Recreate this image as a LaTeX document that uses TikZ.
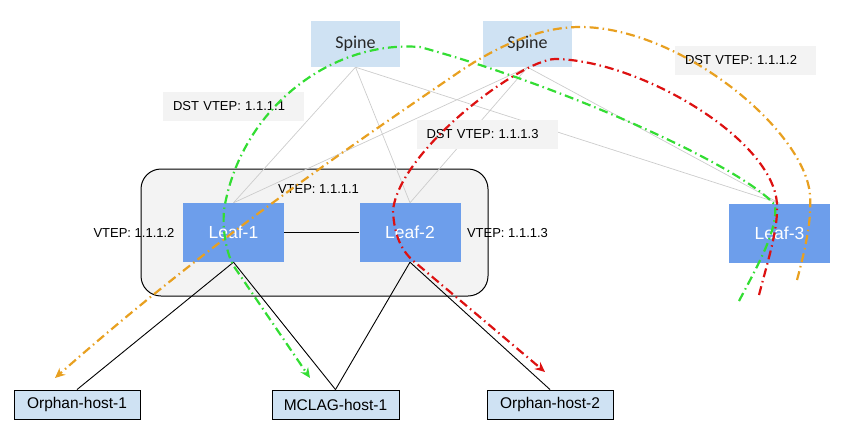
\documentclass[tikz,border=0pt]{standalone}
\usepackage{fontspec}
\setmainfont{Liberation Sans}
\newfontfamily\spinefont{Carlito}
\usetikzlibrary{arrows.meta}
\pgfdeclarelayer{backlayer}
\pgfdeclarelayer{midlayer}
\pgfsetlayers{backlayer,midlayer,main}
\definecolor{spinebg}{HTML}{CFE2F3}
\definecolor{leafbg}{HTML}{6D9EEB}
\definecolor{lblbg}{HTML}{F3F3F3}
\definecolor{grpbg}{HTML}{F3F3F3}
\definecolor{thin}{HTML}{CCCCCC}
\definecolor{pgreen}{HTML}{33DD33}
\definecolor{porange}{HTML}{E8A020}
\definecolor{pred}{HTML}{DD1111}
\tikzset{
  spinebox/.style={fill=spinebg, inner sep=0pt, minimum width=89pt, minimum height=46pt, font=\spinefont\fontsize{18}{20}\selectfont, text=black!85},
  leafbox/.style={fill=leafbg, inner sep=0pt, minimum width=101pt, minimum height=59pt, font=\fontsize{17.5}{20}\selectfont, text=white},
  hostbox/.style={fill=spinebg, draw=black, line width=0.9pt, inner sep=0pt, minimum width=126pt, minimum height=29pt, font=\fontsize{15.5}{18}\selectfont},
  dstbox/.style={fill=lblbg, inner xsep=10pt, inner ysep=0pt, text width=121pt, align=left, minimum height=29pt, font=\fontsize{13}{15}\selectfont},
  vteplbl/.style={inner sep=0pt, font=\fontsize{13}{15}\selectfont},
  grpbox/.style={fill=grpbg, draw=black, line width=1pt, rounded corners=20pt, inner sep=0pt, minimum width=347pt, minimum height=127pt},
  uplink/.style={draw=thin, line width=0.7pt},
  link/.style={draw=black, line width=0.9pt},
  flow/.style={line width=2.2pt, dash pattern=on 9pt off 4pt on 1.5pt off 4pt, -{Stealth[length=10pt,width=9pt]}},
}
\begin{document}
\begin{tikzpicture}[x=1pt,y=-1pt]
\useasboundingbox (0,0) rectangle (844,429);
% label boxes
\node[dstbox] (dst1) at (233.5,106) {DST VTEP: 1.1.1.1};
\node[dstbox] (dst3) at (487,134.5) {DST VTEP: 1.1.1.3};
\node[dstbox] (dst2) at (745.5,60) {DST VTEP: 1.1.1.2};
% spines and leaves
\node[spinebox] (sp1) at (355.5,44) {Spine};
\node[spinebox] (sp2) at (527.5,44) {Spine};
\node[leafbox] (l1) at (233.5,232.5) {Leaf-1};
\node[leafbox] (l2) at (410,232.5) {Leaf-2};
\node[leafbox] (l3) at (779.5,233) {Leaf-3};
% group box
\begin{pgfonlayer}{backlayer}
\node[grpbox] (grp) at (314.5,232.5) {};
\end{pgfonlayer}
% uplinks
\begin{pgfonlayer}{midlayer}
\draw[uplink] (sp1.south) -- (l1.north);
\draw[uplink] (sp1.south) -- (l2.north);
\draw[uplink] (sp1.south) -- (l3.north);
\draw[uplink] (sp2.south) -- (l1.north);
\draw[uplink] (sp2.south) -- (l2.north);
\draw[uplink] (sp2.south) -- (l3.north);
\end{pgfonlayer}
% VTEP labels
\node[vteplbl] (v1) at (318.5,189) {VTEP: 1.1.1.1};
\node[vteplbl] (v2) at (134,233) {VTEP: 1.1.1.2};
\node[vteplbl] (v3) at (507.5,233) {VTEP: 1.1.1.3};
% hosts
\node[hostbox] (h1) at (77,404.5) {Orphan-host-1};
\node[hostbox, minimum width=127pt] (mh) at (335.5,404.5) {MCLAG-host-1};
\node[hostbox] (h2) at (550,404.5) {Orphan-host-2};
% black links
\draw[link, line width=1.2pt] (l1.east) -- (l2.west);
\draw[link] (l1.south) -- (h1.north);
\draw[link] (l1.south) -- (mh.north);
\draw[link] (l2.south) -- (mh.north);
\draw[link] (l2.south) -- (h2.north);
% flows
\coordinate (gs) at (739,301);
\coordinate (ge) at (310,378);
\coordinate (os) at (797,280);
\coordinate (oe) at (55,378);
\coordinate (rs) at (759,295);
\coordinate (re) at (545,372);
\draw[flow, pgreen] (gs) .. controls (758,265) and (778,230) .. (775,205)
  .. controls (740,165) and (560,85) .. (420,47)
  .. controls (330,40) and (240,110) .. (224,210)
  .. controls (222,235) and (228,255) .. (233,265) -- (ge);
\draw[flow, porange] (os) .. controls (805,250) and (812,220) .. (810,195)
  .. controls (805,130) and (680,27) .. (580,27)
  .. controls (540,27) and (500,45) .. (462,70)
  .. controls (330,160) and (200,250) .. (oe);
\draw[flow, pred] (rs) .. controls (768,260) and (778,230) .. (777,205)
  .. controls (775,140) and (640,60) .. (555,59)
  .. controls (520,60) and (400,150) .. (393,210)
  .. controls (394,240) and (405,255) .. (417,264) -- (re);
\end{tikzpicture}
\end{document}
